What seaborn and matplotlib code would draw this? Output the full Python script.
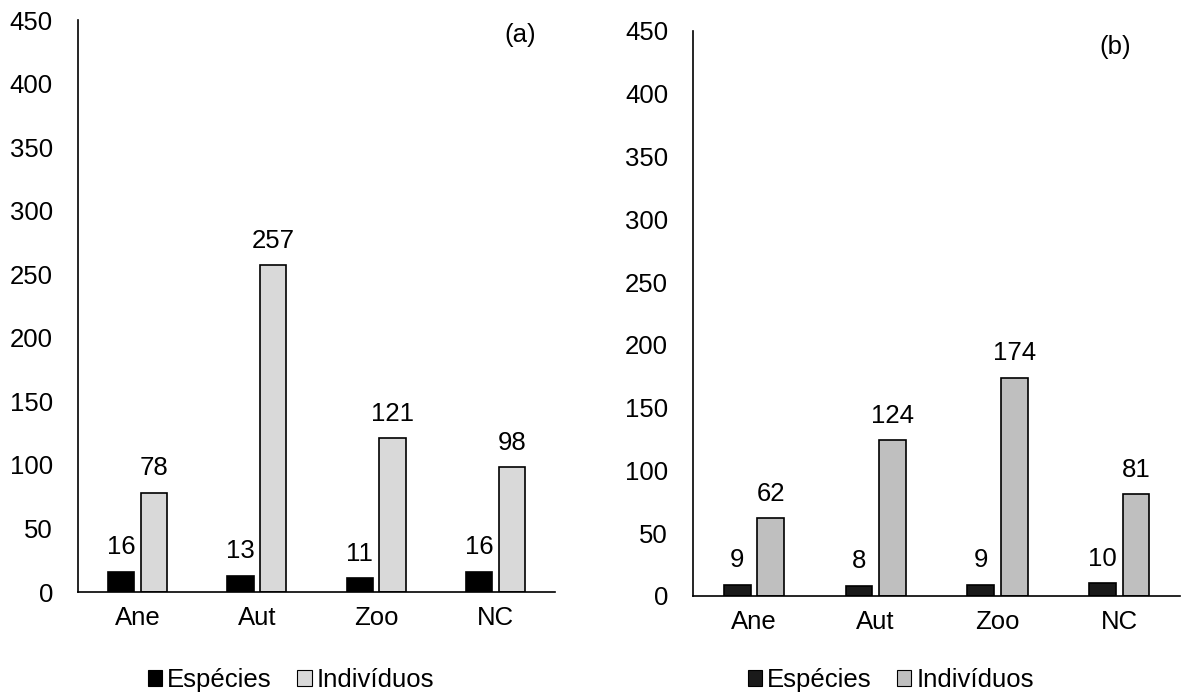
import matplotlib
matplotlib.use("Agg")
import matplotlib.pyplot as plt
import seaborn as sns
import pandas as pd
from matplotlib.patches import Patch

categories = ["Ane", "Aut", "Zoo", "NC"]
series_names = ["Espécies", "Indivíduos"]
especies_a = [16, 13, 11, 16]
individuos_a = [78, 257, 121, 98]
especies_b = [9, 8, 9, 10]
individuos_b = [62, 124, 174, 81]
yticks = [0, 50, 100, 150, 200, 250, 300, 350, 400, 450]
panel_labels = ["(a)", "(b)"]

sns.set_style("white")
plt.rcParams['font.family'] = ['Liberation Sans', 'DejaVu Sans']
plt.rcParams['text.color'] = 'black'
plt.rcParams['xtick.color'] = 'black'
plt.rcParams['ytick.color'] = 'black'
plt.rcParams['axes.labelcolor'] = 'black'

FS = 18.5
fig = plt.figure(figsize=(11.83, 6.93), dpi=100)
ax1 = fig.add_axes([0.0659, 0.1457, 0.4032, 0.8254])
ax2 = fig.add_axes([0.5858, 0.1400, 0.4117, 0.8153])

panels = [
    (ax1, especies_a, individuos_a, ["#000000", "#d9d9d9"], panel_labels[0], (0.4396, 0.9495), 0.246),
    (ax2, especies_b, individuos_b, ["#1a1a1a", "#bfbfbf"], panel_labels[1], (0.9425, 0.932), 0.753),
]

for ax, esp, ind, colors, lab, lpos, legx in panels:
    df = pd.DataFrame({
        "cat": categories * 2,
        "serie": [series_names[0]] * 4 + [series_names[1]] * 4,
        "val": esp + ind,
    })
    sns.barplot(data=df, x="cat", y="val", hue="serie", hue_order=series_names,
                palette=colors, width=0.55, gap=0.2, ax=ax, legend=False,
                edgecolor="black", linewidth=1.2, errorbar=None)
    for cont in ax.containers:
        for bar in cont:
            h = bar.get_height()
            ax.annotate(f"{int(round(h))}", (bar.get_x() + bar.get_width() / 2, h),
                        xytext=(0, 9), textcoords="offset points",
                        ha="center", va="bottom", fontsize=FS, color="black")
    ax.set_ylim(0, 450)
    ax.set_yticks(yticks)
    ax.set_xlim(-0.5, 3.5)
    ax.set_xlabel("")
    ax.set_ylabel("")
    ax.tick_params(axis="y", labelsize=FS, length=0, pad=18, labelcolor="black")
    ax.tick_params(axis="x", labelsize=FS, length=0, pad=10, labelcolor="black")
    sns.despine(ax=ax)
    for s in ("left", "bottom"):
        ax.spines[s].set_color("black")
        ax.spines[s].set_linewidth(1.2)
    fig.text(lpos[0], lpos[1], lab, fontsize=FS, ha="center", va="center", color="black")
    handles = [Patch(facecolor=colors[0], edgecolor="black", linewidth=0.8),
               Patch(facecolor=colors[1], edgecolor="black", linewidth=0.8)]
    leg = ax.legend(handles, series_names, loc="center", bbox_to_anchor=(legx, 0.0188),
                    bbox_transform=fig.transFigure,
                    ncol=2, frameon=False, fontsize=FS, handlelength=0.55, handleheight=0.55,
                    handletextpad=0.2, columnspacing=1.0, borderpad=0, borderaxespad=0)
    for t in leg.get_texts():
        t.set_color("black")

fig.savefig("out.png", dpi=100)
